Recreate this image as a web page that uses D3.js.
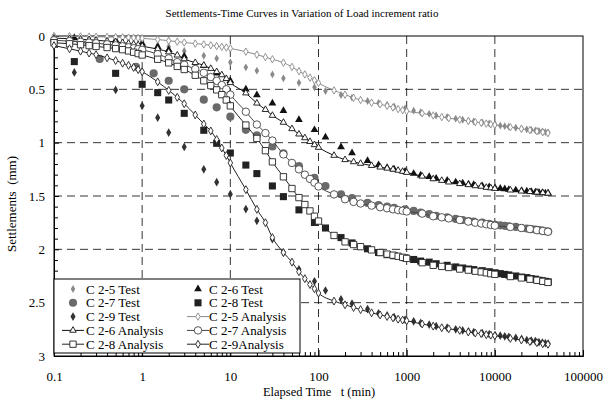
<!DOCTYPE html>
<html><head><meta charset="utf-8">
<script src="https://cdn.jsdelivr.net/npm/d3@7"></script>
<style>body{margin:0;background:#fff}svg{display:block}</style>
</head><body><svg id="c" width="604" height="401" font-family="'Liberation Serif', 'Times New Roman', serif"></svg>
<script>
// ---------- DATA ----------
const xTickLabels = ["0.1","1","10","100","1000","10000","100000"];
const yTickLabels = ["0","0.5","1","1.5","2","2.5","3"];

const analysisTimes = [0.1,0.15,0.2,0.25,0.3,0.4,0.5,0.6,0.7,0.8,0.9,
  1,1.5,2,2.5,3,4,5,6,7,8,9,
  10,15,20,25,30,40,50,60,70,80,90,
  100,150,200,250,300,400,500,600,700,800,900,
  1000,1500,2000,2500,3000,4000,5000,6000,7000,8000,9000,
  10000,15000,20000,25000,30000,35000,40000];

const a25 = [0.000,0.002,0.004,0.006,0.007,0.009,0.011,0.013,0.015,0.017,0.019,
  0.022,0.033,0.044,0.053,0.061,0.071,0.079,0.087,0.094,0.101,0.108,
  0.116,0.147,0.175,0.198,0.218,0.25,0.29,0.33,0.36,0.39,0.415,
  0.44,0.51,0.55,0.58,0.60,0.625,0.64,0.655,0.67,0.685,0.695,
  0.705,0.725,0.745,0.76,0.77,0.785,0.797,0.806,0.814,0.821,0.828,
  0.834,0.855,0.87,0.882,0.893,0.902,0.91];
const a26 = [0.02,0.025,0.03,0.035,0.04,0.048,0.056,0.063,0.07,0.077,0.084,
  0.095,0.122,0.15,0.18,0.215,0.25,0.275,0.305,0.335,0.365,0.40,
  0.438,0.535,0.63,0.69,0.745,0.81,0.87,0.92,0.955,0.99,1.02,
  1.045,1.12,1.16,1.18,1.195,1.215,1.23,1.24,1.25,1.26,1.27,
  1.28,1.315,1.34,1.355,1.37,1.385,1.395,1.405,1.41,1.42,1.425,
  1.43,1.445,1.455,1.46,1.465,1.47,1.475];
const a27 = [0.04,0.048,0.055,0.062,0.068,0.078,0.088,0.097,0.106,0.115,0.123,
  0.13,0.17,0.21,0.245,0.27,0.31,0.345,0.385,0.42,0.46,0.50,
  0.55,0.71,0.83,0.91,0.98,1.11,1.19,1.25,1.30,1.34,1.375,
  1.41,1.485,1.53,1.555,1.57,1.59,1.605,1.615,1.625,1.632,1.638,
  1.645,1.665,1.69,1.70,1.71,1.725,1.74,1.75,1.758,1.765,1.772,
  1.778,1.79,1.80,1.81,1.82,1.828,1.835];
const a28 = [0.063,0.073,0.082,0.09,0.098,0.108,0.118,0.128,0.14,0.152,0.165,
  0.178,0.218,0.252,0.285,0.314,0.368,0.42,0.465,0.505,0.55,0.60,
  0.655,0.835,0.96,1.075,1.18,1.32,1.43,1.515,1.58,1.64,1.69,
  1.735,1.87,1.93,1.955,1.975,2.005,2.03,2.045,2.055,2.065,2.075,
  2.085,2.125,2.15,2.16,2.17,2.185,2.195,2.205,2.212,2.22,2.228,
  2.234,2.255,2.268,2.28,2.29,2.30,2.31];
const a29 = [0.09,0.12,0.142,0.16,0.175,0.205,0.23,0.255,0.275,0.295,0.315,
  0.335,0.43,0.51,0.575,0.635,0.74,0.825,0.89,0.97,1.05,1.12,
  1.19,1.44,1.625,1.75,1.89,2.03,2.12,2.21,2.275,2.33,2.37,
  2.41,2.485,2.52,2.545,2.565,2.595,2.615,2.63,2.643,2.655,2.663,
  2.67,2.70,2.72,2.735,2.745,2.76,2.775,2.785,2.79,2.80,2.805,
  2.81,2.835,2.85,2.865,2.875,2.885,2.89];

const testTimesEarly = [0.17,0.5,1,1.5,2,3,5,7,10,15,20,30,40,60,90,120,180,240,360];
const testTimesEarly27 = [0.33,0.85,1.35,2,3,5,7,10,15,20,30,40,60,90,120,180,240,360];
const testTimesLate = [480,600,720,960,1200,1440,1800,2160,2880,3600,4320,5040,5760,7200,8640,
  10080,11520,12960,14400,17280,20160,23040,25920,28800,31680,34560,37440,40320];

const t25 = [0.01,0.02,0.05,0.09,0.10,0.14,0.185,0.21,0.247,0.294,0.325,0.36,0.397,0.438,0.481,0.516,0.553,0.578,0.61,
  0.628,0.645,0.66,0.68,0.70,0.715,0.73,0.745,0.76,0.775,0.785,0.795,0.80,0.81,0.82,
  0.83,0.84,0.845,0.85,0.86,0.87,0.875,0.88,0.885,0.89,0.895,0.90,0.905];
const t26 = [0.02,0.04,0.07,0.10,0.13,0.19,0.28,0.35,0.42,0.50,0.553,0.63,0.70,0.785,0.88,0.95,1.04,1.097,1.17,
  1.21,1.235,1.25,1.27,1.29,1.305,1.32,1.335,1.355,1.37,1.38,1.39,1.395,1.405,1.415,
  1.425,1.43,1.435,1.44,1.445,1.45,1.455,1.46,1.465,1.468,1.47,1.473,1.475];
const t27 = [0.215,0.288,0.35,0.419,0.5,0.597,0.669,0.756,0.88,0.93,1.035,1.10,1.22,1.33,1.406,1.484,1.52,1.565,
  1.585,1.60,1.61,1.625,1.64,1.655,1.67,1.685,1.70,1.715,1.725,1.735,1.74,1.75,1.76,
  1.77,1.775,1.78,1.785,1.79,1.80,1.805,1.81,1.815,1.82,1.825,1.83,1.833];
const t28 = [0.24,0.35,0.453,0.531,0.60,0.725,0.884,1.006,1.097,1.21,1.29,1.406,1.506,1.63,1.748,1.80,1.89,1.94,1.995,
  2.03,2.05,2.06,2.08,2.095,2.11,2.12,2.135,2.15,2.165,2.175,2.185,2.19,2.20,2.21,
  2.22,2.228,2.235,2.24,2.25,2.26,2.265,2.275,2.28,2.29,2.295,2.30,2.305];
const t29 = [0.342,0.506,0.655,0.766,0.905,1.04,1.25,1.37,1.483,1.623,1.733,1.905,2.03,2.187,2.30,2.386,2.468,2.508,2.56,
  2.60,2.62,2.635,2.66,2.675,2.69,2.705,2.72,2.735,2.75,2.76,2.77,2.775,2.785,2.795,
  2.805,2.81,2.815,2.82,2.83,2.84,2.85,2.855,2.86,2.87,2.875,2.88,2.885];

const legendLabels = ["C 2-5 Test","C 2-6 Test","C 2-7 Test","C 2-8 Test","C 2-9 Test",
  "C 2-5 Analysis","C 2-6 Analysis","C 2-7 Analysis","C 2-8 Analysis","C 2-9Analysis"];

// ---------- CHART ----------
const FONT = "'Liberation Serif', 'Times New Roman', serif";
const svg = d3.select("#c");
const L=54, R=583, T=36, B=356;
const x = d3.scaleLog().domain([0.1,100000]).range([L,R]);
const y = d3.scaleLinear().domain([0,3]).range([T,B]);

svg.append("text").attr("x",302).attr("y",17).attr("text-anchor","middle")
  .attr("font-family",FONT).attr("font-size",11).text("Settlements-Time Curves in Variation of Load increment ratio");

// gridlines
const g = svg.append("g");
const decades = xTickLabels.map(Number);
g.selectAll(".vg").data(decades.slice(1,-1)).join("line")
  .attr("x1",d=>x(d)).attr("x2",d=>x(d)).attr("y1",T).attr("y2",B)
  .attr("stroke","#000").attr("stroke-width",0.8).attr("stroke-dasharray","8,5");
const yVals = yTickLabels.map(Number);
g.selectAll(".hg").data(yVals.slice(1,-1)).join("line")
  .attr("x1",L).attr("x2",R).attr("y1",d=>y(d)).attr("y2",d=>y(d))
  .attr("stroke","#000").attr("stroke-width",0.8).attr("stroke-dasharray","8,5");

// axes
const xAxis = d3.axisBottom(x).tickValues(decades).tickFormat((d,i)=>xTickLabels[i]).tickSize(-6).tickPadding(16);
svg.append("g").attr("transform",`translate(0,${B})`).call(xAxis);
const minorX = [];
decades.slice(0,-1).forEach(d=>{for(let k=2;k<=9;k++) minorX.push(d*k);});
svg.append("g").attr("transform",`translate(0,${B})`)
  .call(d3.axisBottom(x).tickValues(minorX).tickFormat("").tickSize(-4)).select(".domain").remove();
const yAxis = d3.axisLeft(y).tickValues(yVals).tickFormat((d,i)=>yTickLabels[i]).tickSize(-5).tickPadding(9);
svg.append("g").attr("transform",`translate(${L},0)`).call(yAxis);
const minorY = d3.range(1,30).map(i=>i/10).filter(v=>Math.abs(v*2-Math.round(v*2))>1e-6);
svg.append("g").attr("transform",`translate(${L},0)`)
  .call(d3.axisLeft(y).tickValues(minorY).tickFormat("").tickSize(-4)).select(".domain").remove();
svg.selectAll("g").attr("font-family",FONT);
svg.selectAll(".tick text").attr("font-family",FONT).attr("font-size",13).attr("fill","#000");
svg.selectAll(".domain").attr("stroke","#000");
// frame
svg.append("rect").attr("x",L).attr("y",T).attr("width",R-L).attr("height",B-T)
  .attr("fill","none").attr("stroke","#000").attr("stroke-width",1);

svg.append("text").attr("x",319).attr("y",396).attr("text-anchor","middle")
  .attr("font-family",FONT).attr("font-size",12.5).attr("xml:space","preserve").text("Elapsed Time   t (min)");
svg.append("text").attr("transform","translate(16,204) rotate(-90)").attr("text-anchor","middle")
  .attr("font-family",FONT).attr("font-size",13).attr("xml:space","preserve").text("Settlements  (mm)");

// series definitions
const zip = (ts,vs)=>ts.map((t,i)=>({t,s:vs[i]}));
const lateTimes = testTimesEarly.concat(testTimesLate);
const lateTimes27 = testTimesEarly27.concat(testTimesLate);
const tests = [
  {data:zip(lateTimes,t25), sym:d3.symbolDiamond, size:18, fill:"#8a8a8a"},
  {data:zip(lateTimes,t26), sym:d3.symbolTriangle, size:26, fill:"#111"},
  {data:zip(lateTimes27,t27), sym:d3.symbolCircle, size:52, fill:"#6a6a6a"},
  {data:zip(lateTimes,t28), sym:d3.symbolSquare, size:50, fill:"#222"},
  {data:zip(lateTimes,t29), sym:d3.symbolDiamond, size:22, fill:"#333"}
];
const analyses = [
  {data:zip(analysisTimes,a25), sym:d3.symbolDiamond, size:16, color:"#8a8a8a"},
  {data:zip(analysisTimes,a26), sym:d3.symbolTriangle, size:18, color:"#111"},
  {data:zip(analysisTimes,a27), sym:d3.symbolCircle, size:44, color:"#444"},
  {data:zip(analysisTimes,a28), sym:d3.symbolSquare, size:40, color:"#222"},
  {data:zip(analysisTimes,a29), sym:d3.symbolDiamond, size:18, color:"#222"}
];
const plot = svg.append("g");
tests.forEach(sr=>{
  plot.append("g").selectAll("path").data(sr.data).join("path")
    .attr("transform",d=>`translate(${x(d.t)},${y(d.s)})`)
    .attr("d",d3.symbol(sr.sym,sr.size)).attr("fill",sr.fill);
});
const line = d3.line().x(d=>x(d.t)).y(d=>y(d.s)).curve(d3.curveMonotoneX);
analyses.forEach(sr=>{
  plot.append("path").datum(sr.data).attr("d",line).attr("fill","none").attr("stroke",sr.color).attr("stroke-width",1);
  plot.append("g").selectAll("path").data(sr.data).join("path")
    .attr("transform",d=>`translate(${x(d.t)},${y(d.s)})`)
    .attr("d",d3.symbol(sr.sym,sr.size)).attr("fill","#fff").attr("stroke",sr.color).attr("stroke-width",0.9);
});

// legend
const lg = svg.append("g");
lg.append("rect").attr("x",L).attr("y",279).attr("width",246).attr("height",74).attr("fill","#fff").attr("stroke","#000");
const legendSeries = tests.map(d=>({...d,type:"t"})).concat(analyses.map(d=>({...d,type:"a"})));
legendSeries.forEach((sr,i)=>{
  const col=i%2, row=Math.floor(i/2);
  const cx = col===0?73:198, cy = 289+row*13.8;
  if(sr.type==="a"){
    lg.append("line").attr("x1",cx-11).attr("x2",cx+11).attr("y1",cy).attr("y2",cy).attr("stroke",sr.color);
    lg.append("path").attr("transform",`translate(${cx},${cy})`).attr("d",d3.symbol(sr.sym,sr.size)())
      .attr("fill","#fff").attr("stroke",sr.color).attr("stroke-width",0.9);
  } else {
    lg.append("path").attr("transform",`translate(${cx},${cy})`).attr("d",d3.symbol(sr.sym,sr.size)()).attr("fill",sr.fill);
  }
  lg.append("text").attr("x",col===0?86:209).attr("y",cy+4.5).attr("font-family",FONT).attr("font-size",13).text(legendLabels[i]);
});
</script></body></html>
